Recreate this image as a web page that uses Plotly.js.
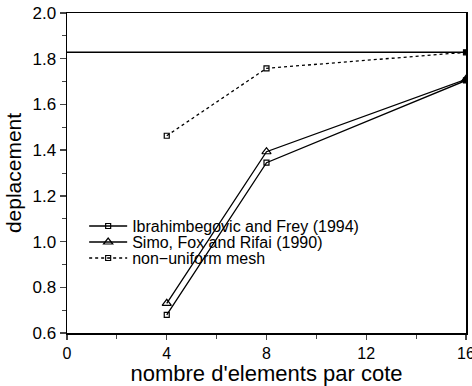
<!DOCTYPE html>
<html>
<head>
<meta charset="utf-8">
<script src="https://cdn.plot.ly/plotly-3.0.1.min.js"></script>
<style>html,body{margin:0;padding:0;background:#fff;}#chart{width:472px;height:386px;}</style>
</head>
<body>
<div id="chart"></div>
<script>
// Data
const elements = [4, 8, 16];
const ibrahimbegovic = [0.679, 1.345, 1.705];
const simo = [0.730, 1.393, 1.710];
const nonUniform = [1.463, 1.758, 1.828];
const referenceX = [0, 16];
const referenceValue = [1.828, 1.828];
const xTicks = [0, 4, 8, 12, 16];
const seriesNames = ['Ibrahimbegovic and Frey (1994)', 'Simo, Fox and Rifai (1990)', 'non\u2212uniform mesh'];

const traces = [
  {
    x: referenceX, y: referenceValue, mode: 'lines', showlegend: false,
    line: {color: '#000', width: 1.5}, hoverinfo: 'skip'
  },
  {
    x: elements, y: ibrahimbegovic, name: seriesNames[0], mode: 'lines+markers', legend: 'legend',
    line: {color: '#000', width: 1.3},
    marker: {symbol: ['square-open', 'square-open', 'square'], size: 5, color: '#000', line: {width: 1.2, color: '#000'}}
  },
  {
    x: elements, y: simo, name: seriesNames[1], mode: 'lines+markers', legend: 'legend2',
    line: {color: '#000', width: 1.3},
    marker: {symbol: ['triangle-up-open', 'triangle-up-open', 'triangle-up'], size: 8, color: '#000', line: {width: 1.2, color: '#000'}}
  },
  {
    x: elements, y: nonUniform, name: seriesNames[2], mode: 'lines+markers', legend: 'legend3',
    line: {color: '#000', width: 1.3, dash: '3px,3px'},
    marker: {symbol: ['square-open', 'square-open', 'square'], size: 5, color: '#000', line: {width: 1.2, color: '#000'}}
  }
];

const font = {family: 'Liberation Sans, Arial, sans-serif', color: '#000'};
function legendAt(yPaper) {
  return {
    x: 0.043, y: yPaper, xanchor: 'left', yanchor: 'middle',
    bgcolor: 'rgba(0,0,0,0)', borderwidth: 0,
    font: {family: font.family, size: 16, color: '#000'},
    itemwidth: 38
  };
}

const layout = {
  width: 472, height: 386,
  margin: {l: 67, r: 6, t: 13, b: 53},
  paper_bgcolor: '#fff', plot_bgcolor: '#fff',
  showlegend: true,
  font: font,
  xaxis: {
    range: [0, 16], tickvals: xTicks, ticks: 'outside', ticklen: 5, tickwidth: 1.3,
    showline: true, linecolor: '#000', linewidth: 1.5, mirror: true,
    showgrid: false, zeroline: false, ticklabeloverflow: 'allow',
    tickfont: {family: font.family, size: 16, color: '#000'},
    minor: {dtick: 2, ticks: 'outside', ticklen: 4, tickwidth: 1, showgrid: false},
    title: {text: "nombre d'elements par cote", font: {family: font.family, size: 22, color: '#000'}, standoff: 8}
  },
  yaxis: {
    range: [0.6, 2.0], dtick: 0.2, tick0: 0.6, tickformat: '.1f', ticks: 'outside', ticklen: 6, tickwidth: 1.3,
    showline: true, linecolor: '#000', linewidth: 1.5, mirror: true,
    showgrid: false, zeroline: false,
    tickfont: {family: font.family, size: 17, color: '#000'},
    minor: {dtick: 0.1, ticks: 'outside', ticklen: 4, tickwidth: 1, showgrid: false},
    title: {text: 'deplacement', font: {family: font.family, size: 21, color: '#000'}, standoff: 5}
  },
  legend: legendAt(0.334),
  legend2: legendAt(0.284),
  legend3: legendAt(0.234)
};

Plotly.newPlot('chart', traces, layout, {displayModeBar: false, staticPlot: true});
</script>
</body>
</html>
